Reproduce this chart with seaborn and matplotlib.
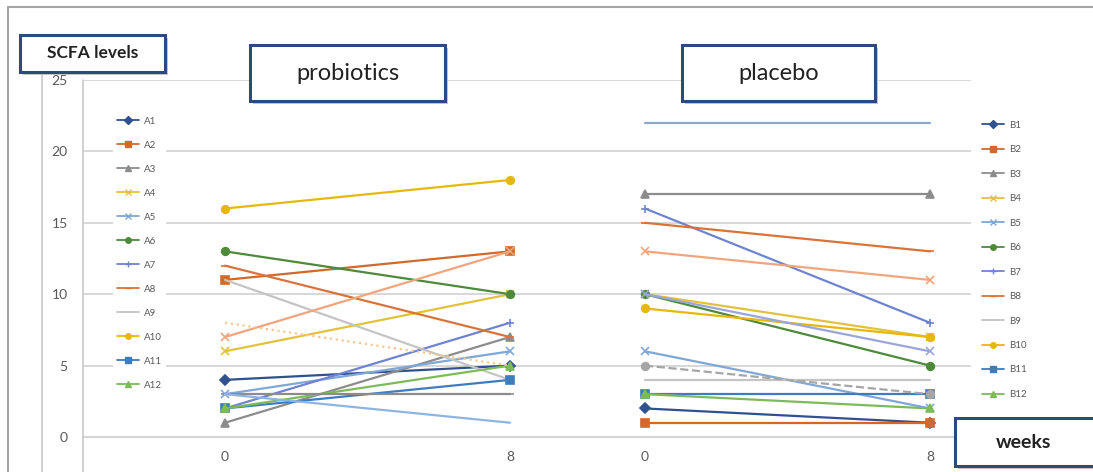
"""Spaghetti plot of SCFA levels at week 0 and week 8, probiotics vs placebo."""
import matplotlib.pyplot as plt
import seaborn as sns
from matplotlib.lines import Line2D
from matplotlib.patches import Rectangle

WEEKS = ["0", "8"]
LEGEND_COUNT = 12  # only the first twelve series appear in the legends

PROBIOTIC_NAMES = [f"A{i}" for i in range(1, 17)]
PROBIOTIC_WEEK0 = [4, 11, 1, 6, 3, 13, 2, 12, 11, 16, 2, 2, 3, 3, 7, 8]
PROBIOTIC_WEEK8 = [5, 13, 7, 10, 6, 10, 8, 7, 4, 18, 4, 5, 3, 1, 13, 5]

PLACEBO_NAMES = [f"B{i}" for i in range(1, 17)]
PLACEBO_WEEK0 = [2, 1, 17, 10, 6, 10, 16, 15, 4, 9, 3, 3, 22, 10, 13, 5]
PLACEBO_WEEK8 = [1, 1, 17, 7, 2, 5, 8, 13, 4, 7, 3, 2, 22, 6, 11, 3]

# (colour, marker, linestyle) for each series
BASE_STYLES = [
    ("#2F528F", "D", "-"),
    ("#CF6A2C", "s", "-"),
    ("#8C8C8C", "^", "-"),
    ("#E3C23A", "x", "-"),
    ("#7FA7D8", "x", "-"),
    ("#4E8A3A", "o", "-"),
    ("#6F84D0", "+", "-"),
    ("#D9733A", "_", "-"),
    ("#C4C4C4", "", "-"),
    ("#E6B80C", "o", "-"),
    ("#3E7CC0", "s", "-"),
    ("#7DBB5A", "^", "-"),
]
PROBIOTIC_EXTRA = [
    ("#8C8C8C", "_", "-"),
    ("#8DB4E2", "", "-"),
    ("#F2A47C", "x", "-"),
    ("#F3C98E", "", ":"),
]
PLACEBO_EXTRA = [
    ("#8EA9C8", "", "-"),
    ("#9AA5DC", "x", "-"),
    ("#F2A47C", "x", "-"),
    ("#A6A6A6", "o", "--"),
]

W, H = 1093, 472
TEXT = "#595959"
GRID = "#D4D4D4"
NAVY = "#2E4A7D"


def fx(x):
    return x / W


def fy(y):
    return 1 - y / H


def draw_panel(ax, week0, week8, styles):
    for s, e, (c, m, ls) in zip(week0, week8, styles):
        sns.lineplot(x=WEEKS, y=[s, e], ax=ax, color=c, marker=m, linestyle=ls,
                     lw=1.6, ms=5.5, mec=c, mew=1.2, sort=False)
    ax.set_ylim(0, 25)
    ax.set_yticks(range(0, 26, 5))
    ax.yaxis.grid(True, color=GRID, lw=1.3)
    ax.set_axisbelow(True)
    for side in ["left", "right", "top"]:
        ax.spines[side].set_visible(False)
    ax.spines["bottom"].set_color(GRID)
    ax.spines["bottom"].set_linewidth(1.5)
    ax.set_xticks([0.5], minor=True)
    ax.tick_params(axis="x", which="major", length=0, pad=10, labelsize=10, labelcolor=TEXT)
    ax.tick_params(axis="x", which="minor", length=4, color=GRID, direction="out")
    ax.set_xlabel("")
    ax.set_ylabel("")


def make_legend(ax, names, styles, x, y, spacing):
    handles = [Line2D([], [], color=c, marker=m, linestyle=ls, lw=1.3, ms=4, mec=c)
               for c, m, ls in styles[:LEGEND_COUNT]]
    leg = ax.legend(handles, names[:LEGEND_COUNT], loc="upper left",
                    bbox_to_anchor=(fx(x), fy(y)), bbox_transform=ax.figure.transFigure,
                    frameon=True, facecolor="white", edgecolor="none", framealpha=1,
                    fontsize=7, labelcolor=TEXT, labelspacing=spacing,
                    handlelength=2.3, handletextpad=0.5, borderpad=0.4, borderaxespad=0)
    leg.set_zorder(5)


def text_box(fig, x0, y0, x1, y1, label, size, weight="normal"):
    fig.add_artist(Rectangle((fx(x0 + 3), fy(y1 + 3)), fx(x1 - x0), fy(y0) - fy(y1),
                             transform=fig.transFigure, facecolor="#C8C8C8",
                             edgecolor="none", zorder=9))
    fig.add_artist(Rectangle((fx(x0), fy(y1)), fx(x1 - x0), fy(y0) - fy(y1),
                             transform=fig.transFigure, facecolor="white",
                             edgecolor=NAVY, lw=2.2, zorder=10))
    fig.text(fx((x0 + min(x1, W)) / 2), fy((y0 + y1) / 2), label, ha="center", va="center",
             fontsize=size, fontweight=weight, color="#222222", zorder=11)


def main():
    sns.set_style("white")
    plt.rcParams["font.family"] = ["Lato", "DejaVu Sans"]

    fig = plt.figure(figsize=(W / 100, H / 100), dpi=100)
    fig.patch.set_facecolor("white")

    ax_left = fig.add_axes([fx(83), fy(437), fx(600 - 83), fy(80) - fy(437)])
    ax_right = fig.add_axes([fx(600), fy(437), fx(971 - 600), fy(80) - fy(437)])

    probiotic_styles = BASE_STYLES + PROBIOTIC_EXTRA
    placebo_styles = BASE_STYLES + PLACEBO_EXTRA
    draw_panel(ax_left, PROBIOTIC_WEEK0, PROBIOTIC_WEEK8, probiotic_styles)
    draw_panel(ax_right, PLACEBO_WEEK0, PLACEBO_WEEK8, placebo_styles)

    ax_left.set_xlim(-(225 - 83) / 285, (600 - 225) / 285)
    ax_right.set_xlim(-(645 - 600) / 285, (971 - 645) / 285)

    ax_left.tick_params(axis="y", length=5, color=GRID, labelsize=10, labelcolor=TEXT, pad=6)
    ax_right.tick_params(axis="y", length=0, labelleft=False)

    make_legend(ax_left, PROBIOTIC_NAMES, probiotic_styles, 113, 113, 1.54)
    make_legend(ax_right, PLACEBO_NAMES, placebo_styles, 978, 117, 1.59)

    # frame lines of the pasted chart
    fig.add_artist(Line2D([fx(8), fx(8)], [fy(7), 0], color="#A6A6A6", lw=1.5))
    fig.add_artist(Line2D([fx(8), 1], [fy(7), fy(7)], color="#A6A6A6", lw=1.5))
    fig.add_artist(Line2D([fx(42), fx(42)], [fy(70), 0], color="#C8C8C8", lw=1.2))
    fig.add_artist(Line2D([fx(83), fx(83)], [fy(80), 0], color="#C8C8C8", lw=1.2))

    text_box(fig, 20, 35, 165, 72, "SCFA levels", 12.5, "bold")
    text_box(fig, 250, 45, 445, 101, "probiotics", 17)
    text_box(fig, 682, 45, 875, 101, "placebo", 17)
    text_box(fig, 955, 418, 1110, 466, "weeks", 14, "bold")

    fig.savefig("out.png", dpi=100)


if __name__ == "__main__":
    main()
